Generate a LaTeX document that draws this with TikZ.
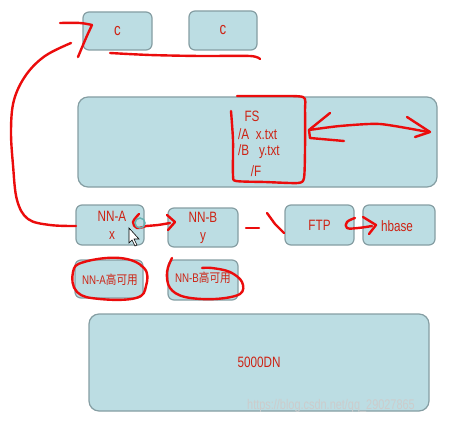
\documentclass[tikz,border=0pt]{standalone}
\usepackage{fontspec}
\setmainfont{Liberation Sans}[FakeStretch=0.78]
\newfontfamily\cjk{Noto Sans CJK SC}[FakeStretch=0.85]
\definecolor{boxfill}{RGB}{188,221,227}
\definecolor{boxdraw}{RGB}{133,158,163}
\definecolor{ink}{RGB}{235,12,12}
\definecolor{txtred}{RGB}{205,35,20}
\tikzset{
  box/.style={draw=boxdraw, fill=boxfill, line width=1.2pt, rounded corners=6pt, text=txtred, font=\fontsize{15}{17}\selectfont, inner sep=0pt},
  lbl/.style={text=txtred, font=\fontsize{15}{17}\selectfont, inner sep=0pt},
  pen/.style={draw=ink, line width=2.4pt, line cap=round, line join=round},
}
\begin{document}
\begin{tikzpicture}[x=1pt,y=-1pt]
\useasboundingbox (0,0) rectangle (463,425);
% boxes
\node[box, minimum width=69pt, minimum height=38pt, font=\fontsize{17}{19}\selectfont] (c1) at (117.5,31) {c};
\node[box, minimum width=68pt, minimum height=39pt, font=\fontsize{17}{19}\selectfont] (c2) at (223,30.5) {c};
\node[box, minimum width=359pt, minimum height=90pt, rounded corners=10pt] (fs) at (257.5,142) {};
\node[box, minimum width=68pt, minimum height=40pt] (nna) at (110,225) {};
\node[box, minimum width=70pt, minimum height=39pt] (nnb) at (203,227.5) {};
\node[box, minimum width=69pt, minimum height=40pt] (ftp) at (319.5,225) {FTP};
\node[box, minimum width=72pt, minimum height=40pt] (hbase) at (399,225) {};
\node[box, minimum width=68pt, minimum height=38pt] (nnaha) at (109,279) {};
\node[box, minimum width=70pt, minimum height=40pt] (nnbha) at (203,280) {};
\node[box, minimum width=340pt, minimum height=97pt, rounded corners=10pt] (dn) at (259,362.5) {5000DN};
% texts
\node[lbl] (t1) at (252,116) {FS};
\node[lbl, anchor=west] (t2) at (238,134) {/A\ \ x.txt};
\node[lbl, anchor=west] (t3) at (238,152) {/B\ \ \ y.txt};
\node[lbl] (t4) at (256,171) {/F};
\node[lbl] (t5) at (112,216) {NN-A};
\node[lbl] (t6) at (112,236) {x};
\node[lbl] (t7) at (203,217) {NN-B};
\node[lbl] (t8) at (203,238) {y};
\node[lbl] (t9) at (397,226) {hbase};
\node[lbl, font=\fontsize{12.5}{14}\selectfont] (t10) at (110,280) {NN-A{\cjk 高可用}};
\node[lbl, font=\fontsize{12.5}{14}\selectfont] (t11) at (203,278) {NN-B{\cjk 高可用}};
\node[text=white!80!black, font=\fontsize{14}{16}\selectfont, inner sep=0pt] (wm) at (331,406) {https://blog.csdn.net/qq\_29027865};
% red ink strokes
\draw[pen] plot[smooth, tension=0.6] coordinates {(60,23) (80,23) (92,25)};
\draw[pen] plot[smooth, tension=0.6] coordinates {(92,25) (86,38) (78,57)};
\draw[pen] plot[smooth, tension=0.5] coordinates {(110,53) (150,55) (200,56) (250,56) (260,59)};
\draw[pen] plot[smooth, tension=0.6] coordinates {(76,226) (50,225) (28,219) (17,200) (13,165) (11,130) (14,100) (26,75) (45,56) (71,43)};
% FS box outline
\draw[pen] plot[smooth, tension=0.4] coordinates {(237,96) (270,96) (303,97) (305,110) (305,150) (304,178) (298,183) (265,182) (236,181) (233,175) (233,140) (231,111)};
% double arrow
\draw[pen] plot[smooth, tension=0.4] coordinates {(309,130) (340,126) (380,124) (428,132)};
\draw[pen] (330,113) -- (309,130) -- (310,138) -- (344,141);
\draw[pen] (407,117) -- (430,132) -- (415,137);
% NN-A -> NN-B
\draw[pen] plot[smooth, tension=0.6] coordinates {(139,214) (133,222) (137,228) (146,226)};
\draw[pen] plot[smooth, tension=0.5] coordinates {(146,226) (158,225) (170,223)};
\draw[pen] (167,215) -- (175,222) -- (168,230);
% dash and > to FTP
\draw[pen] (246,228) -- (259,228);
\draw[pen] (267,213) -- (275,224) -- (284,233);
% FTP -> hbase
\draw[pen] plot[smooth, tension=0.7] coordinates {(355,218) (347,222) (347,228) (358,228) (372,226)};
\draw[pen] (363,217) -- (376,225) -- (369,234);
% ellipse around NN-A HA
\draw[pen] plot[smooth cycle, tension=0.7] coordinates {(84,262) (120,258) (144,268) (146,286) (136,298) (100,299) (77,292) (73,272)};
% scribble around NN-B HA
\draw[pen] plot[smooth, tension=0.6] coordinates {(172,258) (167,272) (170,288) (185,297) (215,299) (240,294) (242,282) (230,272) (212,268) (202,268)};
% cursor
\draw[teal!60!white, line width=1.5pt] (140,223) circle (5);
\filldraw[fill=white, draw=black, line width=0.6pt] (129,228) -- (129,243) -- (132,240) -- (135,246) -- (137,245) -- (134,239) -- (139,239) -- cycle;
\end{tikzpicture}
\end{document}
